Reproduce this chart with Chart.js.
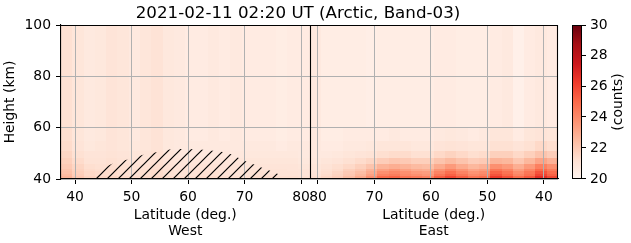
<!DOCTYPE html>
<html><head><meta charset="utf-8">
<script src="https://cdn.jsdelivr.net/npm/chart.js@4.4.1/dist/chart.umd.min.js"></script>
<style>html,body{margin:0;padding:0;background:#fff;overflow:hidden}canvas{display:block}</style>
</head><body>
<canvas id="c" width="631" height="243"></canvas>
<script>
// ---------------- data ----------------
const titleText = '2021-02-11 02:20 UT (Arctic, Band-03)';
const xAxisTitle = 'Latitude (deg.)';
const sideNames = ['West', 'East'];
const yAxisTitle = 'Height (km)';
const cbarTitle = '(counts)';

const latStart = 37.5;     // outer edge of each half
const latSplit = 81.5;     // latitude where West meets East
const binWidth = 2;        // latitude bin width (deg)

const westLat = [38.5,40.5,42.5,44.5,46.5,48.5,50.5,52.5,54.5,56.5,58.5,60.5,62.5,64.5,66.5,68.5,70.5,72.5,74.5,76.5,78.5,80.5];
const eastLat = [80.5,78.5,76.5,74.5,72.5,70.5,68.5,66.5,64.5,62.5,60.5,58.5,56.5,54.5,52.5,50.5,48.5,46.5,44.5,42.5,40.5,38.5];

const bandBottom = [40, 41, 42, 43, 44, 46, 48, 51, 55, 60];
const bandTop    = [41, 42, 43, 44, 46, 48, 51, 55, 60, 100];

// counts, West (one list per height band, same order as westLat)
const west40 = [22.7,22.1,21.7,21.6,21.6,21.5,21.4,21.5,21.6,21.4,21.3,21.3,21.4,21.4,21.3,21.3,21.3,21.4,21.4,21.3,21.3,21.2];
const west41 = [22.5,21.9,21.5,21.4,21.4,21.3,21.2,21.3,21.4,21.2,21.1,21.1,21.2,21.2,21.1,21.1,21.1,21.2,21.2,21.1,21.1,21.0];
const west42 = [22.3,21.8,21.5,21.4,21.4,21.3,21.2,21.3,21.4,21.2,21.1,21.1,21.2,21.2,21.1,21.1,21.1,21.2,21.1,21.1,21.1,21.0];
const west43 = [22.2,21.7,21.4,21.3,21.4,21.3,21.2,21.3,21.4,21.2,21.1,21.1,21.1,21.1,21.1,21.1,21.1,21.1,21.1,21.1,21.0,21.0];
const west44 = [22.0,21.6,21.3,21.2,21.3,21.2,21.1,21.2,21.3,21.1,21.0,21.0,21.1,21.1,21.0,21.0,21.0,21.0,21.0,21.0,21.0,20.9];
const west46 = [21.8,21.4,21.1,21.1,21.2,21.1,21.0,21.1,21.2,21.0,20.9,20.9,20.9,20.9,20.9,20.9,20.9,20.9,20.9,20.9,20.9,20.8];
const west48 = [21.6,21.2,21.0,21.0,21.1,21.0,20.9,21.0,21.2,20.9,20.8,20.8,20.8,20.8,20.8,20.8,20.8,20.8,20.8,20.8,20.8,20.7];
const west51 = [21.4,21.0,20.8,20.9,21.0,20.9,20.8,20.9,21.1,20.8,20.7,20.7,20.7,20.7,20.7,20.7,20.7,20.7,20.7,20.6,20.7,20.7];
const west55 = [21.3,20.9,20.7,20.8,21.0,20.9,20.7,20.9,21.1,20.8,20.7,20.6,20.6,20.7,20.6,20.7,20.6,20.6,20.6,20.5,20.6,20.6];
const west60 = [21.2,20.9,20.7,20.8,21.0,20.9,20.7,20.9,21.1,20.8,20.7,20.6,20.6,20.7,20.6,20.7,20.6,20.6,20.6,20.5,20.6,20.6];

// counts, East (same order as eastLat)
const east40 = [21.3,21.6,21.9,22.4,23.0,23.8,24.9,25.1,24.7,24.5,24.3,25.3,25.9,25.3,24.7,24.9,26.3,25.7,24.9,25.5,26.7,25.9];
const east41 = [21.1,21.4,21.7,22.1,22.6,23.3,24.2,24.4,24.0,23.8,23.6,24.6,25.2,24.6,24.0,24.2,25.6,25.0,24.2,24.8,26.0,25.2];
const east42 = [21.0,21.3,21.6,22.0,22.4,23.0,23.8,24.1,23.8,23.5,23.4,24.2,24.8,24.2,23.7,23.9,25.2,24.7,23.9,24.6,25.6,24.9];
const east43 = [20.9,21.2,21.4,21.8,22.1,22.7,23.3,23.6,23.3,23.0,22.9,23.7,24.2,23.7,23.2,23.4,24.6,24.2,23.4,24.1,25.0,24.4];
const east44 = [20.9,21.1,21.3,21.5,21.8,22.2,22.7,22.9,22.7,22.5,22.4,23.0,23.5,23.0,22.6,22.8,23.8,23.5,22.9,23.5,24.3,23.8];
const east46 = [20.8,20.9,21.0,21.2,21.4,21.6,21.9,22.1,22.0,21.8,21.8,22.2,22.5,22.2,21.9,22.0,22.7,22.6,22.1,22.6,23.2,22.8];
const east48 = [20.7,20.7,20.8,20.9,21.0,21.1,21.3,21.4,21.4,21.2,21.2,21.5,21.7,21.5,21.3,21.4,21.8,21.8,21.5,21.8,22.2,21.9];
const east51 = [20.7,20.6,20.6,20.7,20.7,20.8,20.9,20.9,20.9,20.8,20.8,21.0,21.1,21.0,20.9,20.9,21.2,21.2,21.0,21.2,21.5,21.3];
const east55 = [20.7,20.5,20.5,20.6,20.6,20.6,20.6,20.7,20.6,20.6,20.6,20.7,20.8,20.7,20.6,20.7,20.9,20.9,20.6,20.9,21.0,20.9];
const east60 = [20.7,20.5,20.5,20.5,20.5,20.4,20.5,20.5,20.5,20.5,20.5,20.6,20.6,20.5,20.5,20.5,20.6,20.7,20.3,20.6,20.7,20.6];

// hatched region (West side): outline latitude / top height (km)
const hatchLat = [42.3,43.5,46.7,49.7,52.6,55.0,57.0,61.5,63.0,66.8,70.4,73.0,76.3,77.0];
const hatchTop = [40.0,42.4,46.0,47.8,49.7,50.6,51.6,51.6,51.3,50.2,46.7,44.5,41.6,40.0];

// ticks
const xTickLatWest = [40, 50, 60, 70, 80];
const xTickLatEast = [80, 70, 60, 50, 40];
const yTicks = [40, 60, 80, 100];
const cbTicks = [20, 22, 24, 26, 28, 30];
const cMin = 20, cMax = 30;

// ---------------- helpers ----------------
const westU = lat => lat - latStart;
const eastU = lat => (latSplit - latStart) + (latSplit - lat);
const uMax = eastU(latStart);

const REDS = [[255,245,240],[254,224,210],[252,187,161],[252,146,114],[251,106,74],[239,59,44],[203,24,29],[165,15,21],[103,0,13]];
function redsColor(v){
  let t = (v - cMin) / (cMax - cMin); t = Math.max(0, Math.min(1, t));
  const p = t * 8, i = Math.min(7, Math.floor(p)), f = p - i, a = REDS[i], b = REDS[i+1];
  return 'rgb(' + [0,1,2].map(k => Math.round(a[k] + (b[k]-a[k])*f)).join(',') + ')';
}

const westRows = [west40, west41, west42, west43, west44, west46, west48, west51, west55, west60];
const eastRows = [east40, east41, east42, east43, east44, east46, east48, east51, east55, east60];
const cells = [];
westRows.forEach((row, j) => row.forEach((v, k) => cells.push({
  u0: westU(westLat[k] - binWidth/2), u1: westU(westLat[k] + binWidth/2), h0: bandBottom[j], h1: bandTop[j], v })));
eastRows.forEach((row, j) => row.forEach((v, k) => cells.push({
  u0: eastU(eastLat[k] + binWidth/2), u1: eastU(eastLat[k] - binWidth/2), h0: bandBottom[j], h1: bandTop[j], v })));

const xTicks = xTickLatWest.map(l => ({u: westU(l), label: String(l)}))
  .concat(xTickLatEast.map(l => ({u: eastU(l), label: String(l)})));

// hatch pattern
function makeHatch(){
  const s = 11, c = document.createElement('canvas'); c.width = s; c.height = s;
  const g = c.getContext('2d');
  g.strokeStyle = '#000'; g.lineWidth = 1.2;
  g.beginPath();
  g.moveTo(-1, s+1); g.lineTo(s+1, -1);
  g.moveTo(-1, 1); g.lineTo(1, -1);
  g.moveTo(s-1, s+1); g.lineTo(s+1, s-1);
  g.stroke();
  return document.getElementById('c').getContext('2d').createPattern(c, 'repeat');
}

const FONT = 'DejaVu Sans';

const heatmapPlugin = {
  id: 'heatmap',
  beforeDraw(chart){
    const {ctx, chartArea: a, scales: {x, y}} = chart;
    ctx.save();
    ctx.beginPath(); ctx.rect(a.left, a.top, a.right - a.left, a.bottom - a.top); ctx.clip();
    cells.forEach(c => {
      const xa = Math.round(x.getPixelForValue(c.u0)), xb = Math.round(x.getPixelForValue(c.u1));
      const ya = Math.round(y.getPixelForValue(c.h1)), yb = Math.round(y.getPixelForValue(c.h0));
      ctx.fillStyle = redsColor(c.v);
      ctx.fillRect(Math.min(xa, xb), ya, Math.abs(xb - xa), yb - ya);
    });
    ctx.restore();
  },
  afterDraw(chart){
    const {ctx, chartArea: a, scales: {x, y, cb}} = chart;
    ctx.save();
    // frame + separator
    ctx.strokeStyle = '#000'; ctx.lineWidth = 1.1;
    ctx.beginPath();
    ctx.moveTo(a.left, Math.round(a.top) + 0.5); ctx.lineTo(a.right, Math.round(a.top) + 0.5);
    ctx.moveTo(Math.round(a.right) - 0.5, a.top); ctx.lineTo(Math.round(a.right) - 0.5, a.bottom);
    const sx = Math.round(x.getPixelForValue(westU(latSplit))) + 0.5;
    ctx.moveTo(sx, a.top); ctx.lineTo(sx, a.bottom);
    ctx.stroke();
    // title
    ctx.fillStyle = '#000';
    ctx.font = '16.7px "' + FONT + '"';
    ctx.textAlign = 'center'; ctx.textBaseline = 'alphabetic';
    ctx.fillText(titleText, 298, 17.5);
    // x axis titles
    ctx.font = '13.9px "' + FONT + '"';
    const cw = x.getPixelForValue(westU(latStart) + (latSplit - latStart)/2);
    const ce = x.getPixelForValue(eastU(latSplit) + (latSplit - latStart)/2);
    [[cw, sideNames[0]], [ce, sideNames[1]]].forEach(([px, nm]) => {
      ctx.fillText(xAxisTitle, px, 219);
      ctx.fillText(nm, px, 235);
    });
    // colorbar
    const cbL = Math.round(a.right) + 15, cbW = 8;
    const top = cb.getPixelForValue(cMax), bot = cb.getPixelForValue(cMin);
    const grad = ctx.createLinearGradient(0, bot, 0, top);
    REDS.forEach((c, i) => grad.addColorStop(i / 8, 'rgb(' + c.join(',') + ')'));
    ctx.fillStyle = grad;
    ctx.fillRect(cbL, top, cbW, bot - top);
    ctx.strokeStyle = '#000'; ctx.lineWidth = 1;
    ctx.strokeRect(cbL - 0.5, Math.round(top) + 0.5, cbW + 1, Math.round(bot - top) - 1);
    ctx.beginPath();
    cb.ticks.forEach(t => {
      const py = Math.round(cb.getPixelForValue(t.value)) + (t.value === cMax ? 0.5 : -0.5);
      ctx.moveTo(cbL + cbW, py); ctx.lineTo(cbL + cbW + 5, py);
    });
    ctx.stroke();
    ctx.save();
    ctx.translate(618, (top + bot) / 2);
    ctx.rotate(-Math.PI / 2);
    ctx.fillStyle = '#000'; ctx.font = '13.9px "' + FONT + '"';
    ctx.textAlign = 'center'; ctx.textBaseline = 'middle';
    ctx.fillText(cbarTitle, 0, 0);
    ctx.restore();
    ctx.restore();
  }
};

const tickFont = {family: FONT, size: 13.9};
const noPad = s => { s.paddingTop = 0; s.paddingBottom = 0; s.paddingLeft = 0; s.paddingRight = 0; };

new Chart(document.getElementById('c'), {
  type: 'line',
  data: {
    datasets: [{
      label: 'hatch',
      data: hatchLat.map((l, i) => ({x: westU(l), y: hatchTop[i]})),
      borderWidth: 0,
      pointRadius: 0,
      backgroundColor: makeHatch(),
      fill: 'start',
      tension: 0.3
    }]
  },
  options: {
    responsive: false,
    animation: false,
    devicePixelRatio: 1,
    layout: {padding: {top: 25, left: 0, right: 0, bottom: 0}},
    plugins: {legend: {display: false}, title: {display: false}, tooltip: {enabled: false}},
    scales: {
      x: {
        type: 'linear', min: 0, max: uMax,
        afterBuildTicks: s => { s.ticks = xTicks.map(t => ({value: t.u})); },
        afterFit: s => { s.height = 64; noPad(s); },
        ticks: {
          autoSkip: false, maxRotation: 0, minRotation: 0, color: '#000', font: tickFont, padding: 5,
          callback: v => { const t = xTicks.find(tt => Math.abs(tt.u - v) < 1e-6); return t ? t.label : ''; }
        },
        grid: {color: '#b0b0b0', lineWidth: 1, tickLength: 5, tickColor: '#000', tickWidth: 1},
        border: {color: '#000', width: 1.1}
      },
      y: {
        type: 'linear', min: yTicks[0], max: yTicks[yTicks.length - 1],
        afterBuildTicks: s => { s.ticks = yTicks.map(v => ({value: v})); },
        afterFit: s => { s.width = 61; noPad(s); },
        ticks: {color: '#000', font: tickFont, padding: 5},
        grid: {color: '#b0b0b0', lineWidth: 1, tickLength: 5, tickColor: '#000', tickWidth: 1},
        border: {color: '#000', width: 1.1},
        title: {display: true, text: yAxisTitle, color: '#000', font: tickFont, padding: {top: 2, bottom: 0}}
      },
      cb: {
        type: 'linear', position: 'right', min: cMin, max: cMax,
        afterBuildTicks: s => { s.ticks = cbTicks.map(v => ({value: v})); },
        afterFit: s => { s.width = 73; noPad(s); },
        ticks: {color: '#000', font: tickFont, padding: 32},
        grid: {display: false, drawTicks: false, drawOnChartArea: false},
        border: {display: false}
      }
    }
  },
  plugins: [heatmapPlugin]
});
</script>
</body></html>
